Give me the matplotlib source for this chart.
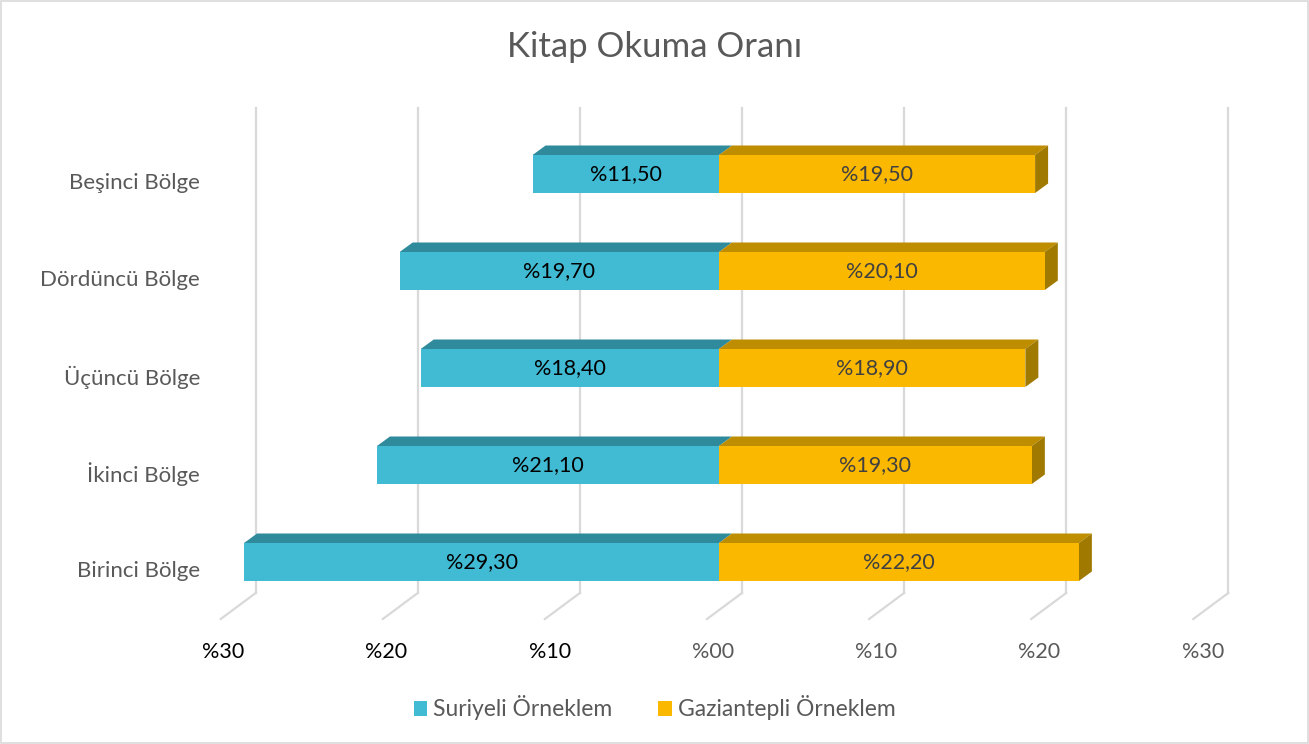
import matplotlib
matplotlib.use("Agg")
import matplotlib.pyplot as plt
from matplotlib.patches import Polygon, Patch, Rectangle

plt.rcParams['font.family'] = ['Lato', 'DejaVu Sans']

# data
regions = ["Birinci Bölge", "İkinci Bölge", "Üçüncü Bölge", "Dördüncü Bölge", "Beşinci Bölge"]
suriyeli = [29.3, 21.1, 18.4, 19.7, 11.5]
gaziantep = [22.2, 19.3, 18.9, 20.1, 19.5]
ticks = [-30, -20, -10, 0, 10, 20, 30]

# colours
cyan_front, cyan_top = "#41BAD4", "#2F8B9C"
gold_front, gold_top, gold_side = "#FBB800", "#BF8D00", "#A07A00"
grid_col = "#D9D9D9"

W, H = 1309, 744
fig = plt.figure(figsize=(W / 100, H / 100), dpi=100)
ax = fig.add_axes([0, 0, 1, 1])

# scale: pixels per unit
sx = 16.21   # px per percent
sy = 97.0    # px per category
x0px, y0px = 719, 562
ax.set_xlim(-x0px / sx, (W - x0px) / sx)
ax.set_ylim((y0px - H) / sy, y0px / sy)
ax.axis("off")

# 3D depth offsets
dx, dy = 13 / sx, 9.5 / sy
hh = 19 / sy
back_dx = 23 / sx
floor_back = (y0px - 593) / sy
floor_front = (y0px - 619) / sy
wall_top = (y0px - 108) / sy

# back wall gridlines and floor lines
for t in ticks:
    xb = t + back_dx
    ax.plot([xb, xb], [floor_back, wall_top], color=grid_col, lw=1.6, zorder=1)
    ax.plot([xb, xb - 35 / sx], [floor_back, floor_front], color=grid_col, lw=1.6, zorder=1)
    lab = "%" + f"{abs(t):02d}" if t == 0 else "%" + f"{abs(t)}"
    ax.text(t - 6 / sx + t * 0.007, (y0px - 652) / sy, lab, ha="center", va="center",
            fontsize=15.5, color="black" if t < 0 else "#595959")

for i, (name, s, g) in enumerate(zip(regions, suriyeli, gaziantep)):
    bot, top = i - hh, i + hh
    # Suriyeli (left)
    ax.add_patch(Polygon([(-s, top), (-s + dx, top + dy), (dx, top + dy), (0, top)],
                         closed=True, fc=cyan_top, ec="none", zorder=2))
    ax.add_patch(Rectangle((-s, bot), s, 2 * hh, fc=cyan_front, ec="none", zorder=3))
    # Gaziantep (right)
    ax.add_patch(Polygon([(0, top), (dx, top + dy), (g + dx, top + dy), (g, top)],
                         closed=True, fc=gold_top, ec="none", zorder=2))
    ax.add_patch(Polygon([(g, bot), (g, top), (g + dx, top + dy), (g + dx, bot + dy)],
                         closed=True, fc=gold_side, ec="none", zorder=2))
    ax.add_patch(Rectangle((0, bot), g, 2 * hh, fc=gold_front, ec="none", zorder=3))
    # data labels
    ax.text(-s / 2, i, "%" + f"{s:.2f}".replace(".", ","), ha="center", va="center",
            fontsize=15.5, color="black", zorder=4)
    ax.text(g / 2, i, "%" + f"{g:.2f}".replace(".", ","), ha="center", va="center",
            fontsize=15.5, color="#404040", zorder=4)
    # category labels
    ax.text((200 - x0px) / sx, i - 9 / sy, name, ha="right", va="center",
            fontsize=16, color="#595959")

# title
fig.text(0.5, 1 - 47 / H, "Kitap Okuma Oranı", ha="center", va="center",
         fontsize=25, color="#595959")

# legend
handles = [Patch(fc=cyan_front, ec="none", label="Suriyeli Örneklem"),
           Patch(fc=gold_front, ec="none", label="Gaziantepli Örneklem")]
leg = fig.legend(handles=handles, loc="center", bbox_to_anchor=(0.5, 1 - 708 / H),
                 ncol=2, frameon=False, fontsize=16.5, handlelength=0.6, handleheight=0.6,
                 handletextpad=0.25, columnspacing=2.0)
for t in leg.get_texts():
    t.set_color("#595959")

# outer border
fig.patches.append(Rectangle((0.001, 0.001), 0.998, 0.998, transform=fig.transFigure,
                             fill=False, ec=grid_col, lw=1.2))

fig.savefig("out.png", dpi=100)
